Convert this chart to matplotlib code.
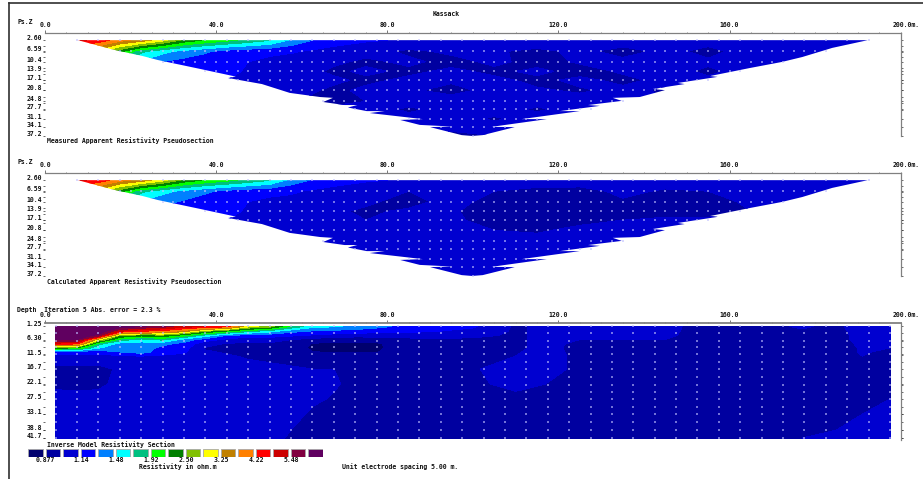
import numpy as np
import matplotlib
matplotlib.use('Agg')
import matplotlib.pyplot as plt
from matplotlib.lines import Line2D
from matplotlib.patches import Polygon

W, H = 923, 479
FONT = dict(family='DejaVu Sans Mono', fontweight='bold', fontsize=4.7, color='#101010')

# colour scale
res_levels = [0.877, 1.00, 1.14, 1.30, 1.48, 1.69, 1.92, 2.19, 2.50, 2.85, 3.25, 3.70, 4.22, 4.81, 5.48, 6.25]
res_colors = ['#00006e', '#0000a0', '#0000d0', '#0000ff', '#0080ff', '#00ffff', '#00c080', '#00ff00', '#008000',
              '#80c000', '#ffff00', '#c08000', '#ff8000', '#ff0000', '#cc0000', '#800040', '#600060']
legend_labels = ['0.877', '1.14', '1.48', '1.92', '2.50', '3.25', '4.22', '5.48']

# pseudosection axes
pz_labels = [2.60, 6.59, 10.4, 13.9, 17.1, 20.8, 24.8, 27.7, 31.1, 34.1, 37.2]
pz_ticks = [2.6, 4.7, 6.8, 8.6, 10.4, 12.6, 14.8, 17, 18, 20.5, 23.2, 25.4, 28, 31.1, 34.1, 37.2]
pz_x = [7.5, 12.5, 17.5, 22.5, 27.5, 32.5, 37.5, 42.5, 47.5, 52.5, 57.5, 62.5, 67.5,
        75, 85, 95, 105, 115, 125, 135, 145, 155, 165, 175, 185, 192.5]

# jagged outline of the pseudosection, left side then right side
outline_x = [7.7, 15.9, 22.7, 26.4, 36.2, 42.8, 44.6, 42.8, 50.7, 57.2, 64.3, 67.3, 65, 70, 73, 70.8, 75.2, 79.4,
             75.9, 88.3, 83, 87.6, 95.3, 90, 97.4, 99.8, 102.3, 109.8, 104.4, 117.3, 111.4, 125, 120.3, 129.7,
             126.9, 134.8, 132.7, 139, 144.9, 142, 149.5, 147.9, 157.2, 155.4, 164.7, 172.2, 177, 184, 192.3]
outline_d = [2.6, 6, 8.3, 9.8, 13, 15.2, 15.8, 16.3, 18.5, 21.7, 23.2, 23.5, 25, 26.1, 26.1, 27, 28.3, 28.3,
             29, 31.2, 31.5, 33.3, 33.9, 34.1, 37, 37.3, 37, 34.1, 34, 31.2, 31.2, 28.3, 28.3, 26.4,
             26.1, 24.6, 23.5, 23.2, 20.7, 20.3, 18.5, 18.1, 15.9, 15.6, 12.7, 10.5, 8.7, 5.4, 2.6]
dots_first = [7.5, 17.5, 27.5, 37.5, 45, 57.5, 65, 72.5, 85, 92.5, 100]

measured = [
    [5.0, 4.6, 3.9, 3.5, 3.0, 2.4, 2.15, 2.0, 1.85, 1.7, 1.45, 1.3, 1.22, 1.16, 1.12, 1.1, 1.08, 1.06, 1.05, 1.05, 1.04, 1.03, 1.04, 1.03, 1.03, 1.02],
    [3.5, 3.0, 2.3, 1.75, 1.55, 1.42, 1.33, 1.24, 1.2, 1.18, 1.16, 1.12, 1.08, 1.04, 0.98, 1.02, 1.01, 0.98, 1.02, 0.97, 1.02, 0.98, 1.03, 1.03, 1.06, 1.03],
    [2.2, 2.0, 1.7, 1.45, 1.3, 1.24, 1.2, 1.16, 1.14, 1.1, 1.07, 1.05, 1.02, 0.98, 1.02, 0.97, 1.02, 0.97, 1.01, 1.02, 1.03, 1.01, 1.03, 1.06, 1.07, 1.07],
    [1.8, 1.6, 1.4, 1.3, 1.25, 1.2, 1.18, 1.16, 1.13, 1.08, 1.05, 1.02, 0.98, 1.02, 0.98, 1.02, 0.98, 1.02, 0.97, 1.01, 1.02, 0.99, 1.02, 1.06, 1.07, 1.07],
    [1.6, 1.5, 1.35, 1.25, 1.2, 1.18, 1.16, 1.14, 1.12, 1.06, 1.03, 1.01, 1.02, 0.98, 1.02, 1.01, 1.02, 0.98, 1.02, 0.98, 1.02, 1.01, 1.01, 1.05, 1.07, 1.07],
    [1.5, 1.4, 1.3, 1.2, 1.18, 1.16, 1.14, 1.12, 1.08, 1.04, 1.02, 1.01, 0.98, 1.02, 1.01, 0.98, 1.02, 1.01, 0.99, 1.02, 0.99, 1.02, 1.03, 1.05, 1.07, 1.07],
    [1.4, 1.3, 1.2, 1.18, 1.16, 1.14, 1.12, 1.1, 1.06, 1.03, 1.02, 0.98, 0.98, 1.0, 1.02, 1.03, 1.02, 1.02, 1.03, 1.02, 1.0, 1.02, 1.03, 1.05, 1.07, 1.07],
    [1.3, 1.2, 1.18, 1.16, 1.14, 1.12, 1.1, 1.08, 1.05, 1.04, 1.03, 1.02, 1.02, 1.03, 0.99, 1.02, 1.03, 0.99, 1.03, 1.03, 1.03, 1.04, 1.05, 1.07, 1.07, 1.07],
    [1.2, 1.18, 1.16, 1.14, 1.12, 1.1, 1.08, 1.06, 1.05, 1.04, 1.03, 1.03, 1.03, 1.03, 1.02, 1.03, 0.99, 1.03, 1.03, 1.04, 1.04, 1.04, 1.05, 1.07, 1.07, 1.07],
    [1.1, 1.1, 1.1, 1.1, 1.1, 1.08, 1.06, 1.05, 1.05, 1.04, 1.04, 1.03, 1.03, 1.03, 1.03, 1.02, 1.03, 1.03, 1.03, 1.04, 1.04, 1.04, 1.05, 1.07, 1.07, 1.07],
    [1.1, 1.1, 1.1, 1.1, 1.1, 1.08, 1.06, 1.05, 1.05, 1.04, 1.04, 1.03, 1.03, 1.03, 1.02, 0.98, 1.0, 1.03, 1.03, 1.04, 1.04, 1.04, 1.05, 1.07, 1.07, 1.07],
]
calculated = [
    [5.0, 4.6, 3.9, 3.5, 3.0, 2.4, 2.15, 2.0, 1.85, 1.7, 1.42, 1.28, 1.22, 1.16, 1.12, 1.1, 1.08, 1.06, 1.05, 1.05, 1.04, 1.03, 1.04, 1.03, 1.03, 1.02],
    [3.5, 3.0, 2.3, 1.75, 1.55, 1.42, 1.33, 1.25, 1.2, 1.18, 1.16, 1.12, 1.08, 1.04, 1.0, 1.02, 1.0, 0.97, 0.97, 1.02, 0.99, 1.0, 1.02, 1.04, 1.05, 1.04],
    [2.2, 2.0, 1.7, 1.45, 1.35, 1.28, 1.22, 1.18, 1.14, 1.11, 1.1, 1.08, 1.04, 1.01, 0.98, 1.02, 0.98, 0.96, 0.97, 0.99, 0.99, 0.98, 1.01, 1.03, 1.05, 1.04],
    [1.8, 1.6, 1.4, 1.3, 1.25, 1.2, 1.18, 1.16, 1.13, 1.08, 1.06, 1.02, 1.01, 0.99, 1.01, 1.01, 0.96, 0.96, 0.96, 0.98, 0.98, 0.98, 1.0, 1.03, 1.05, 1.05],
    [1.6, 1.5, 1.35, 1.25, 1.2, 1.18, 1.16, 1.14, 1.11, 1.06, 1.03, 1.01, 1.01, 1.0, 1.01, 1.01, 0.98, 0.97, 0.98, 1.0, 1.01, 1.01, 1.02, 1.04, 1.05, 1.05],
    [1.5, 1.4, 1.3, 1.2, 1.18, 1.16, 1.14, 1.12, 1.08, 1.05, 1.02, 1.0, 1.01, 1.01, 1.02, 1.03, 1.0, 0.99, 1.02, 1.03, 1.03, 1.03, 1.03, 1.04, 1.05, 1.05],
    [1.4, 1.3, 1.2, 1.18, 1.16, 1.14, 1.12, 1.1, 1.06, 1.04, 1.02, 1.0, 1.02, 1.03, 1.03, 1.03, 1.03, 1.03, 1.03, 1.03, 1.03, 1.03, 1.03, 1.04, 1.05, 1.05],
    [1.3, 1.2, 1.18, 1.16, 1.14, 1.12, 1.1, 1.08, 1.05, 1.04, 1.03, 1.03, 1.03, 1.03, 1.03, 1.03, 1.03, 1.03, 1.03, 1.03, 1.03, 1.03, 1.03, 1.04, 1.05, 1.05],
    [1.2, 1.18, 1.16, 1.14, 1.12, 1.1, 1.08, 1.06, 1.05, 1.04, 1.03, 1.03, 1.03, 1.03, 1.03, 1.03, 1.03, 1.03, 1.03, 1.03, 1.03, 1.03, 1.03, 1.04, 1.05, 1.05],
    [1.1, 1.1, 1.1, 1.1, 1.1, 1.08, 1.06, 1.05, 1.05, 1.04, 1.04, 1.03, 1.03, 1.03, 1.03, 1.03, 1.03, 1.03, 1.03, 1.03, 1.03, 1.03, 1.03, 1.04, 1.05, 1.05],
    [1.1, 1.1, 1.1, 1.1, 1.1, 1.08, 1.06, 1.05, 1.05, 1.04, 1.04, 1.03, 1.03, 1.03, 1.03, 1.03, 1.03, 1.03, 1.03, 1.03, 1.03, 1.03, 1.03, 1.04, 1.05, 1.05],
]

# inverse model section
depth_labels = [1.25, 6.30, 11.5, 16.7, 22.1, 27.5, 33.1, 38.8, 41.7]
depth_ticks = [1.25, 3.7, 6.5, 8.8, 11.3, 14.2, 16.7, 19.5, 22.3, 24.9, 27.5, 30.4, 33, 35.8, 38.7, 41.6]
model_d = [1.25, 3, 4.5, 6, 7.5, 9, 10.5, 12, 16.7, 22.1, 27.5, 33.1, 38.8, 41.7]
model_x = [2.5, 7.5, 12.5, 17.5, 22.5, 27.5, 32.5, 37.5, 42.5, 47.5, 52.5, 57.5, 62.5, 67.5, 72.5, 77.5, 82.5,
           90, 100, 110, 117, 125, 135, 145, 152, 165, 177, 185, 191, 197.5]
# one list per model_x position, top to bottom
model_cols = [
    [7.5, 7.3, 7.0, 6.3, 4.6, 2.3, 1.25, 1.10, 0.97, 0.97, 1.05, 1.03, 1.03, 1.03],
    [7.5, 7.3, 6.9, 6.2, 4.4, 2.2, 1.25, 1.10, 0.96, 0.96, 1.05, 1.03, 1.03, 1.03],
    [7.5, 7.0, 6.0, 3.0, 1.8, 1.5, 1.18, 1.10, 0.96, 0.97, 1.05, 1.04, 1.04, 1.04],
    [6.8, 4.8, 2.5, 1.85, 1.4, 1.38, 1.3, 1.12, 1.02, 1.04, 1.05, 1.05, 1.05, 1.05],
    [6.4, 4.2, 2.3, 1.6, 1.4, 1.4, 1.38, 1.14, 1.03, 1.05, 1.06, 1.05, 1.05, 1.05],
    [5.8, 4.0, 2.4, 1.75, 1.35, 1.25, 1.2, 1.12, 1.04, 1.05, 1.06, 1.05, 1.05, 1.05],
    [5.2, 3.4, 2.0, 1.4, 1.25, 1.2, 1.16, 1.1, 1.04, 1.05, 1.06, 1.05, 1.05, 1.05],
    [4.8, 2.5, 1.6, 1.22, 1.05, 0.99, 1.01, 1.02, 1.04, 1.05, 1.06, 1.05, 1.05, 1.05],
    [4.5, 2.1, 1.3, 1.1, 0.99, 0.98, 0.99, 1.01, 1.04, 1.05, 1.06, 1.05, 1.05, 1.05],
    [3.0, 1.75, 1.22, 1.05, 0.98, 0.97, 0.97, 0.99, 1.03, 1.05, 1.06, 1.05, 1.05, 1.05],
    [2.7, 1.55, 1.2, 1.07, 0.98, 0.97, 0.97, 0.98, 1.02, 1.05, 1.05, 1.05, 1.05, 1.05],
    [1.9, 1.35, 1.17, 1.0, 0.95, 0.93, 0.95, 0.97, 1.01, 1.05, 1.05, 1.04, 1.0, 0.98],
    [1.55, 1.28, 1.12, 0.95, 0.87, 0.86, 0.88, 0.96, 1.0, 1.04, 1.02, 0.98, 0.97, 0.97],
    [1.5, 1.25, 1.08, 0.93, 0.85, 0.85, 0.87, 0.96, 1.0, 1.01, 0.99, 0.97, 0.96, 0.95],
    [1.45, 1.22, 1.05, 0.92, 0.85, 0.85, 0.87, 0.95, 0.97, 0.98, 0.97, 0.96, 0.95, 0.95],
    [1.35, 1.2, 1.05, 0.93, 0.86, 0.85, 0.87, 0.94, 0.96, 0.96, 0.95, 0.95, 0.95, 0.95],
    [1.28, 1.18, 1.07, 0.95, 0.93, 0.93, 0.94, 0.95, 0.96, 0.96, 0.95, 0.95, 0.95, 0.95],
    [1.22, 1.15, 1.05, 0.98, 0.96, 0.96, 0.96, 0.96, 0.96, 0.96, 0.95, 0.95, 0.95, 0.95],
    [1.16, 1.1, 1.03, 0.98, 0.97, 0.97, 0.97, 0.97, 0.99, 0.98, 0.96, 0.95, 0.95, 0.95],
    [0.98, 0.98, 0.98, 0.98, 0.98, 0.98, 0.99, 1.0, 1.05, 1.03, 0.97, 0.95, 0.95, 0.95],
    [1.03, 1.03, 1.03, 1.03, 1.03, 1.03, 1.04, 1.05, 1.05, 1.0, 0.97, 0.95, 0.95, 0.95],
    [1.05, 1.04, 1.02, 1.0, 0.98, 0.97, 0.97, 0.97, 0.97, 0.96, 0.95, 0.95, 0.95, 0.95],
    [1.05, 1.05, 1.03, 1.0, 0.98, 0.96, 0.96, 0.96, 0.96, 0.96, 0.95, 0.95, 0.95, 0.95],
    [1.04, 1.03, 1.02, 1.0, 0.98, 0.96, 0.96, 0.96, 0.96, 0.96, 0.95, 0.95, 0.95, 0.95],
    [0.97, 0.97, 0.97, 0.97, 0.96, 0.96, 0.96, 0.96, 0.96, 0.96, 0.95, 0.95, 0.95, 0.95],
    [0.97, 0.97, 0.97, 0.97, 0.96, 0.96, 0.96, 0.96, 0.96, 0.96, 0.95, 0.95, 0.95, 0.95],
    [1.01, 0.99, 0.97, 0.97, 0.96, 0.96, 0.96, 0.96, 0.96, 0.96, 0.95, 0.96, 0.98, 1.0],
    [0.98, 0.97, 0.97, 0.97, 0.96, 0.96, 0.96, 0.96, 0.96, 0.96, 0.96, 0.98, 1.0, 1.02],
    [1.05, 1.04, 1.03, 1.03, 1.02, 1.01, 1.01, 1.0, 0.96, 0.96, 0.98, 1.0, 1.02, 1.03],
    [1.05, 1.04, 1.03, 1.03, 1.02, 1.0, 0.98, 0.97, 0.96, 0.97, 1.0, 1.02, 1.03, 1.03],
]

fig = plt.figure(figsize=(W / 100, H / 100), dpi=100)


def txt(x, y, s, ha='left'):
    fig.text(x / W, 1 - y / H, s, ha=ha, va='center', **FONT)


def make_axes(y_top, y_bottom, ticks, labels):
    # 0 m is at px 45, 200 m at px 900.7, depth 0 at the axis line
    ax = fig.add_axes([45 / W, 1 - y_bottom / H, 855.7 / W, (y_bottom - y_top) / H])
    ax.set_xlim(0, 200)
    ax.set_ylim((y_bottom - y_top) / 2.76, 0)
    for s in ['left', 'bottom']:
        ax.spines[s].set_visible(False)
    for s in ['top', 'right']:
        ax.spines[s].set_color('#808080')
        ax.spines[s].set_linewidth(0.9)
    ax.xaxis.tick_top()
    ax.set_xticks(np.arange(0, 200, 40))
    ax.set_xticks(np.arange(0, 201, 5), minor=True)
    ax.set_xticklabels([f'{v:.1f}' for v in np.arange(0, 200, 40)], **FONT)
    ax.tick_params(axis='x', which='major', length=2, width=0.6, color='#606060', pad=1.5)
    ax.tick_params(axis='x', which='minor', length=1, width=0.5, color='#606060')
    ax.annotate('200.0m.', (200, 0), xytext=(4, 3.9), textcoords='offset points', ha='center', va='bottom',
                annotation_clip=False, **FONT)
    ax.set_yticks(labels)
    ax.set_yticklabels([f'{v:.2f}' if v < 10 else f'{v:.1f}' for v in labels], va='baseline', **FONT)
    ax.set_yticks(ticks, minor=True)
    ax.tick_params(axis='y', which='both', left=True, right=True, length=1.2, width=0.5, color='#303030', pad=1)
    return ax


def draw_field(ax, xs, ds, values, clip=None):
    cs = ax.contourf(xs, ds, np.log(np.array(values)), levels=np.log(res_levels), colors=res_colors, extend='both')
    if clip is not None:
        patch = Polygon(clip, closed=True, transform=ax.transData, facecolor='none', edgecolor='none')
        ax.add_patch(patch)
        cs.set_clip_path(patch)


def pseudo_panel(y_top, values, title, title_y):
    ax = make_axes(y_top, y_top + 103, pz_ticks, pz_labels)
    draw_field(ax, pz_x, pz_labels, values, clip=np.column_stack([outline_x, outline_d]))
    for d, first in zip(pz_labels, dots_first):
        xs = np.arange(first, 200 - first + 0.1, 2.5 if d > 3 else 5)
        ax.scatter(xs, np.full(len(xs), d), s=0.6, marker='s', color='#c0c0ff', alpha=0.6, linewidths=0, zorder=3)
    txt(47, title_y, title)
    return ax


pseudo_panel(33, measured, 'Measured Apparent Resistivity Pseudosection', 141)
pseudo_panel(173, calculated, 'Calculated Apparent Resistivity Pseudosection', 281.5)

ax3 = make_axes(323, 439.5, depth_ticks, depth_labels)
ax3.spines['top'].set_linewidth(1.3)
draw_field(ax3, model_x, model_d, np.array(model_cols).T)
for d in depth_ticks:
    xs = np.arange(2.5, 198, 5)
    ax3.scatter(xs, np.full(len(xs), d), s=0.6, marker='s', color='#c0c0ff', alpha=0.6, linewidths=0, zorder=3)

# texts
txt(446, 14, 'Kassack', ha='center')
txt(17, 22.5, 'Ps.Z')
txt(17, 162.5, 'Ps.Z')
txt(17, 310, 'Depth  Iteration 5 Abs. error = 2.3 %')
txt(47, 444.5, 'Inverse Model Resistivity Section')
txt(139, 467, 'Resistivity in ohm.m')
txt(342, 467, 'Unit electrode spacing 5.00 m.')

# colour legend
lax = fig.add_axes([28 / W, 1 - 457 / H, 295 / W, 8 / H])
lax.bar(np.arange(17), 1, width=0.83, color=res_colors, edgecolor='#a8a8a8', linewidth=0.6)
lax.set_xlim(-0.415, 16.415)
lax.set_ylim(0, 1)
lax.axis('off')
for k, lab in enumerate(legend_labels):
    lax.text(2 * k + 0.6, -0.4, lab, ha='center', va='center', clip_on=False, **FONT)

# outer frame
fig.add_artist(Line2D([9 / W, 1], [1 - 3 / H, 1 - 3 / H], color='#303030', lw=1.2))
fig.add_artist(Line2D([9 / W, 9 / W], [1 - 3 / H, 0], color='#303030', lw=1.2))

fig.savefig('out.png', dpi=100)
